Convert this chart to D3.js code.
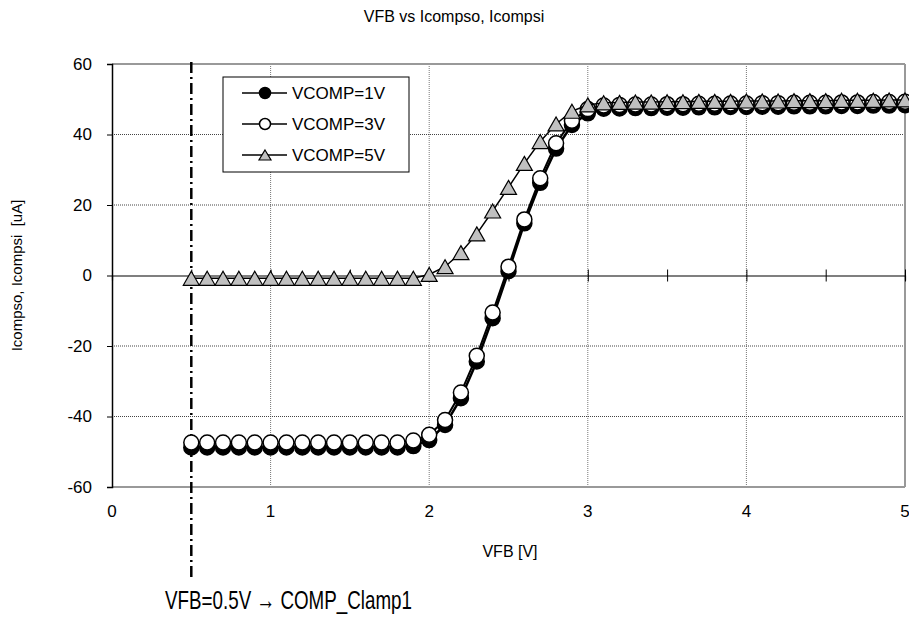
<!DOCTYPE html>
<html>
<head>
<meta charset="utf-8" />
<script src="https://cdn.jsdelivr.net/npm/d3@7"></script>
<style>
  body { margin: 0; background: #fff; }
  text { font-family: "Liberation Sans Narrow", "Liberation Sans", Arial, sans-serif; fill: #000; }
  .grid line { stroke: #444; stroke-width: 1; stroke-dasharray: 1,1; }
</style>
</head>
<body>
<script>
// VFB sweep points [V]
var vfb = [0.5,0.6,0.7,0.8,0.9,1.0,1.1,1.2,1.3,1.4,1.5,1.6,1.7,1.8,1.9,
           2.0,2.1,2.2,2.3,2.4,2.5,2.6,2.7,2.8,2.9,3.0,3.1,3.2,3.3,3.4,
           3.5,3.6,3.7,3.8,3.9,4.0,4.1,4.2,4.3,4.4,4.5,4.6,4.7,4.8,4.9,5.0];

// Icompso / Icompsi [uA]
var vcomp1 = [-48.8,-48.8,-48.8,-48.8,-48.8,-48.8,-48.8,-48.8,-48.8,-48.8,-48.8,-48.8,-48.8,-48.8,-48.4,
              -46.7,-42.4,-34.8,-24.4,-12.1,1.2,14.8,26.3,36.0,42.7,46.0,47.3,
              47.4,47.5,47.5,47.6,47.6,47.7,47.7,47.8,47.8,47.9,47.9,48.0,48.0,48.0,48.1,48.1,48.2,48.2,48.3];
var vcomp3 = [-47.4,-47.4,-47.4,-47.4,-47.4,-47.4,-47.4,-47.4,-47.4,-47.4,-47.4,-47.4,-47.4,-47.4,-46.8,
              -45.2,-41.0,-33.2,-22.8,-10.5,2.5,15.9,27.6,37.5,43.9,47.2,48.2,
              48.4,48.5,48.5,48.6,48.6,48.7,48.7,48.8,48.8,48.9,48.9,49.0,49.0,49.0,49.1,49.1,49.2,49.2,49.3];
var vcomp5 = [-0.8,-0.8,-0.8,-0.8,-0.8,-0.8,-0.8,-0.8,-0.8,-0.8,-0.8,-0.8,-0.8,-0.8,-0.8,
              0.3,2.5,6.5,11.8,18.3,25.0,31.8,38.0,43.0,46.6,48.4,49.0,
              49.1,49.2,49.2,49.3,49.3,49.4,49.4,49.4,49.5,49.5,49.5,49.6,49.6,49.6,49.7,49.7,49.7,49.8,49.8];

var seriesNames = ["VCOMP=1V", "VCOMP=3V", "VCOMP=5V"];
var xTicks = [0, 1, 2, 3, 4, 5];
var yTicks = [-60, -40, -20, 0, 20, 40, 60];
var clampV = 0.5;

var W = 909, H = 620;
var pL = 112, pR = 905, pT = 64, pB = 487;

var x = d3.scaleLinear().domain([0, 5]).range([pL, pR]);
var y = d3.scaleLinear().domain([-60, 60]).range([pB, pT]);

var svg = d3.select("body").append("svg")
    .attr("width", W)
    .attr("height", H);

// title
svg.append("text")
    .attr("x", 454).attr("y", 22)
    .attr("text-anchor", "middle")
    .style("font-size", "16px")
    .text("VFB vs Icompso, Icompsi");

// grid
var grid = svg.append("g").attr("class", "grid");
grid.selectAll("line.v")
    .data(xTicks.filter(function(d){ return d > 0 && d < 5; }))
    .enter().append("line")
    .attr("x1", function(d){ return x(d); }).attr("x2", function(d){ return x(d); })
    .attr("y1", pT).attr("y2", pB)
    .style("stroke", "#777");
grid.selectAll("line.h")
    .data(yTicks.filter(function(d){ return d != 0 && d != 60 && d != -60; }))
    .enter().append("line")
    .attr("x1", pL).attr("x2", pR)
    .attr("y1", function(d){ return y(d); }).attr("y2", function(d){ return y(d); });

// plot frame
svg.append("line").attr("x1", pL).attr("x2", pR).attr("y1", pT).attr("y2", pT)
    .attr("stroke", "#999").attr("stroke-width", 2);
svg.append("line").attr("x1", pR).attr("x2", pR).attr("y1", pT).attr("y2", pB)
    .attr("stroke", "#999").attr("stroke-width", 2);
svg.append("line").attr("x1", pL).attr("x2", pR).attr("y1", pB).attr("y2", pB)
    .attr("stroke", "#999").attr("stroke-width", 2);

// y axis (left)
var yAxis = d3.axisLeft(y).tickValues(yTicks).tickSize(5)
    .tickFormat(function(d){ return String(d); });
var gy = svg.append("g").attr("transform", "translate(" + pL + ",0)").call(yAxis);
gy.select(".domain").attr("stroke", "#000").attr("stroke-width", 1.5);
gy.selectAll(".tick line").attr("stroke", "#000");
gy.selectAll(".tick text")
    .attr("x", -20)
    .style("font-size", "17px")
    .style("font-family", "'Liberation Sans Narrow', 'Liberation Sans', sans-serif");

// x axis at y = 0 with crossing ticks every 0.5
var xAxis = d3.axisBottom(x).tickValues(d3.range(0, 5.01, 0.5)).tickSize(5).tickFormat("");
var gx = svg.append("g").attr("transform", "translate(0," + y(0) + ")").call(xAxis);
gx.select(".domain").attr("stroke", "#000").attr("stroke-width", 1.2);
gx.selectAll(".tick line").attr("y1", -6).attr("y2", 6).attr("stroke", "#000");

// x tick labels below plot
svg.append("g").selectAll("text")
    .data(xTicks)
    .enter().append("text")
    .attr("x", function(d){ return x(d); })
    .attr("y", 517)
    .attr("text-anchor", "middle")
    .style("font-size", "17px")
    .text(function(d){ return d; });

// axis titles
svg.append("text")
    .attr("x", 510).attr("y", 557)
    .attr("text-anchor", "middle")
    .style("font-size", "16px")
    .text("VFB [V]");
svg.append("text")
    .attr("transform", "translate(22," + y(0) + ") rotate(-90)")
    .attr("text-anchor", "middle")
    .style("font-size", "15px")
    .attr("xml:space", "preserve")
    .text("Icompso, Icompsi  [uA]");

// clamp marker line
svg.append("line")
    .attr("x1", x(clampV)).attr("x2", x(clampV))
    .attr("y1", pT - 2).attr("y2", 580)
    .attr("stroke", "#000").attr("stroke-width", 2.5)
    .attr("stroke-dasharray", "11,4,2,4");
svg.append("text")
    .attr("x", 165).attr("y", 609)
    .attr("textLength", 247)
    .attr("lengthAdjust", "spacingAndGlyphs")
    .style("font-size", "26px")
    .text("VFB=0.5V \u2192 COMP_Clamp1");

// series
var series = [
  { name: seriesNames[0], values: vcomp1, shape: "filled", lw: 2.5 },
  { name: seriesNames[1], values: vcomp3, shape: "open", lw: 2 },
  { name: seriesNames[2], values: vcomp5, shape: "tri", lw: 1.5 }
];

var line = d3.line()
    .x(function(d){ return x(d[0]); })
    .y(function(d){ return y(d[1]); });

var triPath = function(w, h) {
  return "M0," + (-h/2) + "L" + (w/2) + "," + (h/2) + "L" + (-w/2) + "," + (h/2) + "Z";
};

function drawMarker(g, shape, big) {
  if (shape == "tri") {
    g.append("path")
      .attr("d", big ? triPath(16, 14) : triPath(12, 10))
      .attr("fill", "#c0c0c0").attr("stroke", "#000").attr("stroke-width", 1.2);
  } else {
    g.append("circle")
      .attr("r", big ? 7.5 : 5.5)
      .attr("fill", shape == "filled" ? "#000" : "#fff")
      .attr("stroke", "#000").attr("stroke-width", 1.5);
  }
}

series.forEach(function(s) {
  var pts = vfb.map(function(v, i){ return [v, s.values[i]]; });
  var g = svg.append("g");
  g.append("path")
    .datum(pts)
    .attr("d", line)
    .attr("fill", "none")
    .attr("stroke", "#000")
    .attr("stroke-width", s.lw);
  g.selectAll("g.m")
    .data(pts)
    .enter().append("g")
    .attr("class", "m")
    .attr("transform", function(d){ return "translate(" + x(d[0]) + "," + y(d[1]) + ")"; })
    .each(function(){ drawMarker(d3.select(this), s.shape, true); });
});

// legend
var lg = svg.append("g").attr("transform", "translate(223,77)");
lg.append("rect")
    .attr("width", 186).attr("height", 95)
    .attr("fill", "#fff").attr("stroke", "#000").attr("stroke-width", 1);
series.forEach(function(s, i) {
  var row = lg.append("g").attr("transform", "translate(0," + (16 + i * 31) + ")");
  row.append("line").attr("x1", 19).attr("x2", 64).attr("y1", 0).attr("y2", 0)
    .attr("stroke", "#000").attr("stroke-width", 1.5);
  drawMarker(row.append("g").attr("transform", "translate(42,0)"), s.shape, false);
  row.append("text")
    .attr("x", 69).attr("y", 6)
    .style("font-size", "17px")
    .style("font-family", "'Liberation Sans', Arial, sans-serif")
    .text(s.name);
});
</script>
</body>
</html>
